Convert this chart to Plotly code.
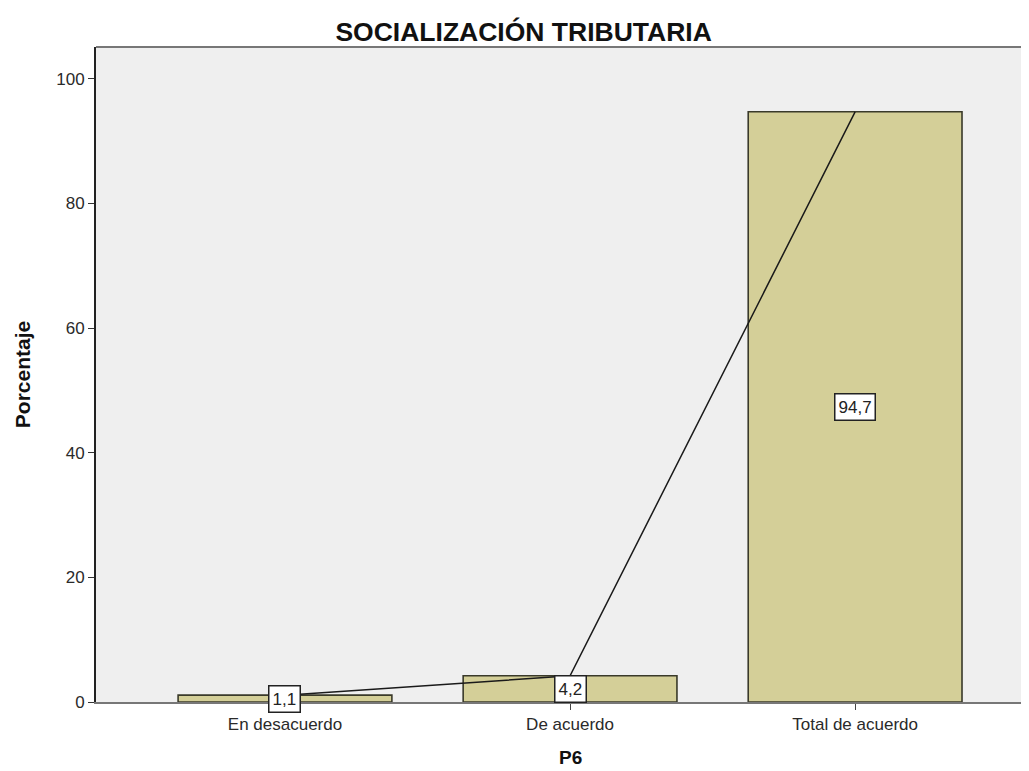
import plotly.graph_objects as go

categories = ["En desacuerdo", "De acuerdo", "Total de acuerdo"]
percentages = [1.1, 4.2, 94.7]
value_labels = ["1,1", "4,2", "94,7"]
y_ticks = [0, 20, 40, 60, 80, 100]

FONT = "Liberation Sans, Arial"

fig = go.Figure()
fig.add_trace(go.Bar(
    x=categories, y=percentages, width=0.75,
    marker=dict(color="#D4CF98", line=dict(color="#3a3a2a", width=1.6)),
    showlegend=False, hoverinfo="skip"))
fig.add_trace(go.Scatter(
    x=categories, y=percentages, mode="lines",
    line=dict(color="#1a1a1a", width=1.5), showlegend=False, hoverinfo="skip"))

for c, v, t in zip(categories, percentages, value_labels):
    fig.add_annotation(x=c, y=v / 2, text=t, showarrow=False,
                       font=dict(family=FONT, size=17, color="#222"),
                       bgcolor="white", bordercolor="#222", borderwidth=1.5, borderpad=3)

# x-axis title, centred under the middle category as in the reference
fig.add_annotation(x=categories[1], xref="x", y=0, yref="paper", yshift=-55,
                   yanchor="middle", text="<b>P6</b>", showarrow=False,
                   font=dict(family=FONT, size=19, color="#111"))

fig.update_layout(
    width=1021, height=763,
    margin=dict(l=88, r=0, t=39, b=69),
    paper_bgcolor="white", plot_bgcolor="#EFEFEF",
    title=dict(text="SOCIALIZACIÓN TRIBUTARIA", x=0.505, xanchor="center", y=0.969, yanchor="middle",
               font=dict(family=FONT, size=26.5, color="#111", weight="bold")),
    font=dict(family=FONT, size=17, color="#333"),
)
fig.update_xaxes(
    range=[-0.663, 2.61], showline=True, linecolor="#777", linewidth=2,
    ticks="outside", ticklen=6, tickcolor="#444", mirror=False,
    tickfont=dict(size=17, color="#2a2a2a"),
    showgrid=False)
fig.update_yaxes(
    range=[0, 105.1], tickvals=y_ticks, showline=True, linecolor="#222", linewidth=2,
    ticks="outside", ticklen=6, tickcolor="#333", showgrid=False, zeroline=False,
    tickfont=dict(size=17, color="#2a2a2a"),
    title=dict(text="Porcentaje", font=dict(size=21, color="#111", weight="bold"), standoff=20))
fig.add_shape(type="line", xref="paper", yref="paper", x0=0, x1=1, y0=1, y1=1,
              line=dict(color="#777", width=2))

fig.write_html("out.html")
